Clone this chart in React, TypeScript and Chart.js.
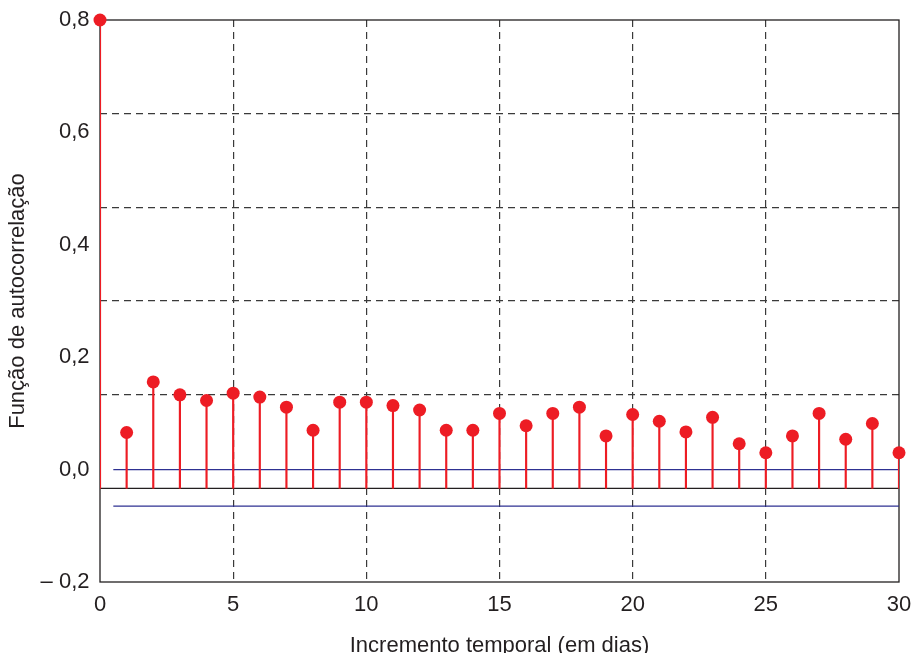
import React, { useEffect, useRef } from 'react';
import { Chart, registerables } from 'chart.js';

Chart.register(...registerables);

// ---- Data ----
const lags = [0, 1, 2, 3, 4, 5, 6, 7, 8, 9, 10, 11, 12, 13, 14, 15, 16, 17, 18, 19, 20, 21, 22, 23, 24, 25, 26, 27, 28, 29, 30];
const acfValues = [
  0.8, 0.066, 0.156, 0.133, 0.123, 0.136, 0.129, 0.111, 0.07, 0.12, 0.12,
  0.114, 0.106, 0.07, 0.07, 0.1, 0.078, 0.1, 0.111, 0.06, 0.098,
  0.086, 0.067, 0.093, 0.046, 0.03, 0.06, 0.1, 0.054, 0.082, 0.03,
];
const stemBase = -0.0333;
const upperBand = 0.0;
const lowerBand = -0.065;
const bandRange = [0.5, 30];
const baseRange = [0, 30];
const xTicks = [0, 5, 10, 15, 20, 25, 30];
const yTicks = [-0.2, 0, 0.2, 0.4, 0.6, 0.8];
const yTickLabels = ['– 0,2', '0,0', '0,2', '0,4', '0,6', '0,8'];
const gridYValues = [0.1333, 0.3, 0.4667, 0.6333];
const xTitle = 'Incremento temporal (em dias)';
const yTitle = 'Função de autocorrelação';

const RED = '#ed1c24';
const BLUE = '#2e3192';
const INK = '#231f20';
const GRID = '#3a3a3a';
const FONT = '"Liberation Sans", Arial, Helvetica, sans-serif';

const framePlugin = {
  id: 'frame',
  beforeDatasetsDraw(chart: any) {
    const { ctx, chartArea } = chart;
    ctx.save();
    ctx.strokeStyle = INK;
    ctx.lineWidth = 1.3;
    ctx.strokeRect(chartArea.left, chartArea.top, chartArea.right - chartArea.left, chartArea.bottom - chartArea.top);
    ctx.restore();
  },
};

export default function App() {
  const ref = useRef<HTMLCanvasElement | null>(null);

  useEffect(() => {
    document.body.style.margin = '0';
    const canvas = ref.current;
    if (!canvas) return;

    const chart = new Chart(canvas, {
      type: 'bar',
      data: {
        datasets: [
          {
            type: 'scatter',
            data: lags.map((x, i) => ({ x, y: acfValues[i] })),
            backgroundColor: RED,
            borderWidth: 0,
            pointRadius: 6.5,
            showLine: false,
            clip: false,
          } as any,
          {
            type: 'bar',
            data: lags.map((x, i) => ({ x, y: [stemBase, acfValues[i]] })),
            backgroundColor: RED,
            borderWidth: 0,
            barThickness: 1.5,
          } as any,
          {
            type: 'line',
            data: baseRange.map((x) => ({ x, y: stemBase })),
            borderColor: INK,
            borderWidth: 1.3,
            pointRadius: 0,
          } as any,
          {
            type: 'line',
            data: bandRange.map((x) => ({ x, y: upperBand })),
            borderColor: BLUE,
            borderWidth: 1.3,
            pointRadius: 0,
          } as any,
          {
            type: 'line',
            data: bandRange.map((x) => ({ x, y: lowerBand })),
            borderColor: BLUE,
            borderWidth: 1.3,
            pointRadius: 0,
          } as any,
        ],
      },
      options: {
        responsive: false,
        animation: false,
        layout: { padding: { top: 20, right: 16, left: 0, bottom: 0 } },
        plugins: {
          legend: { display: false },
          tooltip: { enabled: false },
        },
        events: [],
        scales: {
          x: {
            type: 'linear',
            min: 0,
            max: 30,
            offset: false,
            afterBuildTicks: (s: any) => {
              s.ticks = xTicks.map((v) => ({ value: v }));
            },
            afterFit: (s: any) => {
              s.height = 71;
              s.paddingLeft = 0;
              s.paddingRight = 0;
            },
            ticks: {
              autoSkip: false,
              maxRotation: 0,
              padding: 10,
              color: INK,
              font: { family: FONT, size: 22 },
            },
            grid: {
              offset: false,
              drawTicks: false,
              lineWidth: 1.2,
              color: (c: any) =>
                c.tick && (c.tick.value === 0 || c.tick.value === 30) ? 'rgba(0,0,0,0)' : GRID,
            },
            border: { display: false, dash: [7, 5] },
            title: {
              display: true,
              text: xTitle,
              color: INK,
              font: { family: FONT, size: 22, lineHeight: 0.65 },
              padding: { top: 0, bottom: 0 },
            },
          },
          y: {
            type: 'linear',
            position: 'left',
            min: -0.2,
            max: 0.8,
            afterBuildTicks: (s: any) => {
              s.ticks = yTicks.map((v) => ({ value: v }));
            },
            afterFit: (s: any) => {
              s.width = 100;
              s.paddingTop = 0;
              s.paddingBottom = 0;
            },
            ticks: {
              padding: 10.5,
              color: INK,
              font: { family: FONT, size: 22 },
              callback: (_v: any, i: number) => yTickLabels[i],
            },
            grid: { display: false, drawTicks: false },
            border: { display: false },
            title: {
              display: true,
              text: yTitle,
              color: INK,
              font: { family: FONT, size: 22 },
              padding: { top: 5, bottom: 0 },
            },
          },
          y2: {
            type: 'linear',
            position: 'right',
            min: -0.2,
            max: 0.8,
            afterBuildTicks: (s: any) => {
              s.ticks = gridYValues.map((v) => ({ value: v }));
            },
            afterFit: (s: any) => {
              s.width = 0;
              s.paddingTop = 0;
              s.paddingBottom = 0;
            },
            ticks: { display: false },
            grid: { drawTicks: false, color: GRID, lineWidth: 1.2 },
            border: { display: false, dash: [7, 5] },
          },
        },
      } as any,
      plugins: [framePlugin],
    });

    return () => chart.destroy();
  }, []);

  return (
    <div style={{ width: 915, height: 653 }}>
      <canvas ref={ref} width={915} height={653} style={{ display: 'block' }} />
    </div>
  );
}
